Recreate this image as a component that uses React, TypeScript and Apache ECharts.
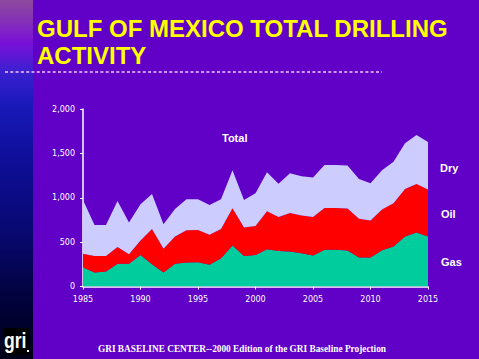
import React, { useEffect, useRef } from "react";
import * as echarts from "echarts";

const years = [1985,1986,1987,1988,1989,1990,1991,1992,1993,1994,1995,1996,1997,1998,1999,2000,2001,2002,2003,2004,2005,2006,2007,2008,2009,2010,2011,2012,2013,2014,2015];
const gas = [214,158,169,255,255,356,251,158,255,270,274,244,319,461,345,356,420,401,394,375,349,413,413,405,326,326,409,450,563,608,563];
const oil = [154,187,176,191,109,162,398,266,308,364,364,338,330,421,319,327,428,383,435,424,435,472,472,473,436,417,458,488,536,548,529];
const dry = [607,349,349,518,356,409,394,278,311,349,345,337,334,427,311,367,439,375,447,443,443,484,484,484,450,420,442,469,514,551,536];
const yTicks = [0, 500, 1000, 1500, 2000];
const seriesNames = ["Gas", "Oil", "Dry"];
const title1 = "GULF OF MEXICO TOTAL DRILLING";
const title2 = "ACTIVITY";
const footer = "GRI BASELINE CENTER--2000 Edition of the GRI Baseline Projection";

export default function App() {
  const ref = useRef<HTMLDivElement>(null);
  useEffect(() => {
    const chart = echarts.init(ref.current!, null, { renderer: "svg" });
    const colors = ["#00CC9E", "#FF0000", "#CCCCFF"];
    const vals = [gas, oil, dry];
    const every5 = (i: number) => (years[i] - years[0]) % 5 === 0;
    chart.setOption({
      animation: false,
      backgroundColor: "#6100C6",
      grid: { left: 83, right: 51, top: 109, bottom: 72.5 },
      xAxis: {
        type: "category", data: years.map(String), boundaryGap: false,
        axisLine: { lineStyle: { color: "#FFFFFF", width: 1.5 } },
        axisTick: { show: true, length: 3, interval: (i: number) => every5(i), lineStyle: { color: "#FFFFFF", width: 1 } },
        splitLine: { show: false },
        axisLabel: { color: "#FFFFFF", fontSize: 8, fontFamily: "DejaVu Sans", margin: 9, interval: (i: number) => every5(i) },
      },
      yAxis: {
        type: "value", min: yTicks[0], max: yTicks[yTicks.length - 1], interval: 500,
        axisLine: { show: true, lineStyle: { color: "#FFFFFF", width: 1.5 } },
        axisTick: { show: true, length: 3, lineStyle: { color: "#FFFFFF", width: 1 } },
        splitLine: { show: false },
        axisLabel: { color: "#FFFFFF", fontSize: 8, fontFamily: "DejaVu Sans", margin: 8,
          formatter: (v: number) => v.toLocaleString("en-US") },
      },
      series: seriesNames.map((n, i) => ({
        name: n, type: "line", stack: "total", symbol: "none",
        lineStyle: { width: 0 },
        areaStyle: { color: colors[i], opacity: 1 },
        data: vals[i],
        z: 2,
      })),
      graphic: [
        {
          type: "rect", shape: { x: 0, y: 0, width: 33, height: 359 },
          style: {
            fill: new echarts.graphic.LinearGradient(0, 0, 0, 1, [
              { offset: 0, color: "#8C4A9C" },
              { offset: 0.06, color: "#8430B8" },
              { offset: 0.12, color: "#7A10D8" },
              { offset: 0.2, color: "#3A20D0" },
              { offset: 0.3, color: "#1818B8" },
              { offset: 0.45, color: "#0E0E98" },
              { offset: 0.65, color: "#080870" },
              { offset: 0.82, color: "#020240" },
              { offset: 1, color: "#000018" },
            ]),
          },
        },
        { type: "rect", shape: { x: 3, y: 328, width: 27, height: 27 }, style: { fill: "#000000" } },
        { type: "text", x: 4, y: 329, scaleX: 0.8, style: { text: "gri", fill: "#FFFFFF", font: "bold 22px 'Liberation Sans', Arial" } },
        { type: "rect", shape: { x: 27, y: 350, width: 2, height: 2 }, style: { fill: "#FFFFFF" } },
        { type: "text", x: 37, y: 16, style: { text: title1, fill: "#FFFF00", font: "bold 24px 'Liberation Sans', Arial" } },
        { type: "text", x: 37, y: 43, style: { text: title2, fill: "#FFFF00", font: "bold 24px 'Liberation Sans', Arial" } },
        { type: "line", shape: { x1: 5, y1: 72, x2: 382, y2: 72 }, style: { stroke: "#CC99EE", lineWidth: 2, lineDash: [3, 2.3] } },
        { type: "text", x: 222, y: 132, style: { text: "Total", fill: "#FFFFFF", font: "bold 11px 'Liberation Sans', Arial" } },
        { type: "text", x: 440, y: 162, style: { text: "Dry", fill: "#FFFFFF", font: "bold 11px 'Liberation Sans', Arial" } },
        { type: "text", x: 441, y: 208, style: { text: "Oil", fill: "#FFFFFF", font: "bold 11px 'Liberation Sans', Arial" } },
        { type: "text", x: 441, y: 256, style: { text: "Gas", fill: "#FFFFFF", font: "bold 11px 'Liberation Sans', Arial" } },
        { type: "text", x: 242, y: 349, style: { text: footer, fill: "#FFFFFF", font: "bold 9.3px 'Liberation Serif', 'Times New Roman', serif", align: "center", verticalAlign: "middle" } },
      ],
    });
    return () => chart.dispose();
  }, []);
  return <div ref={ref} style={{ position: "absolute", left: 0, top: 0, width: 479, height: 359 }} />;
}
